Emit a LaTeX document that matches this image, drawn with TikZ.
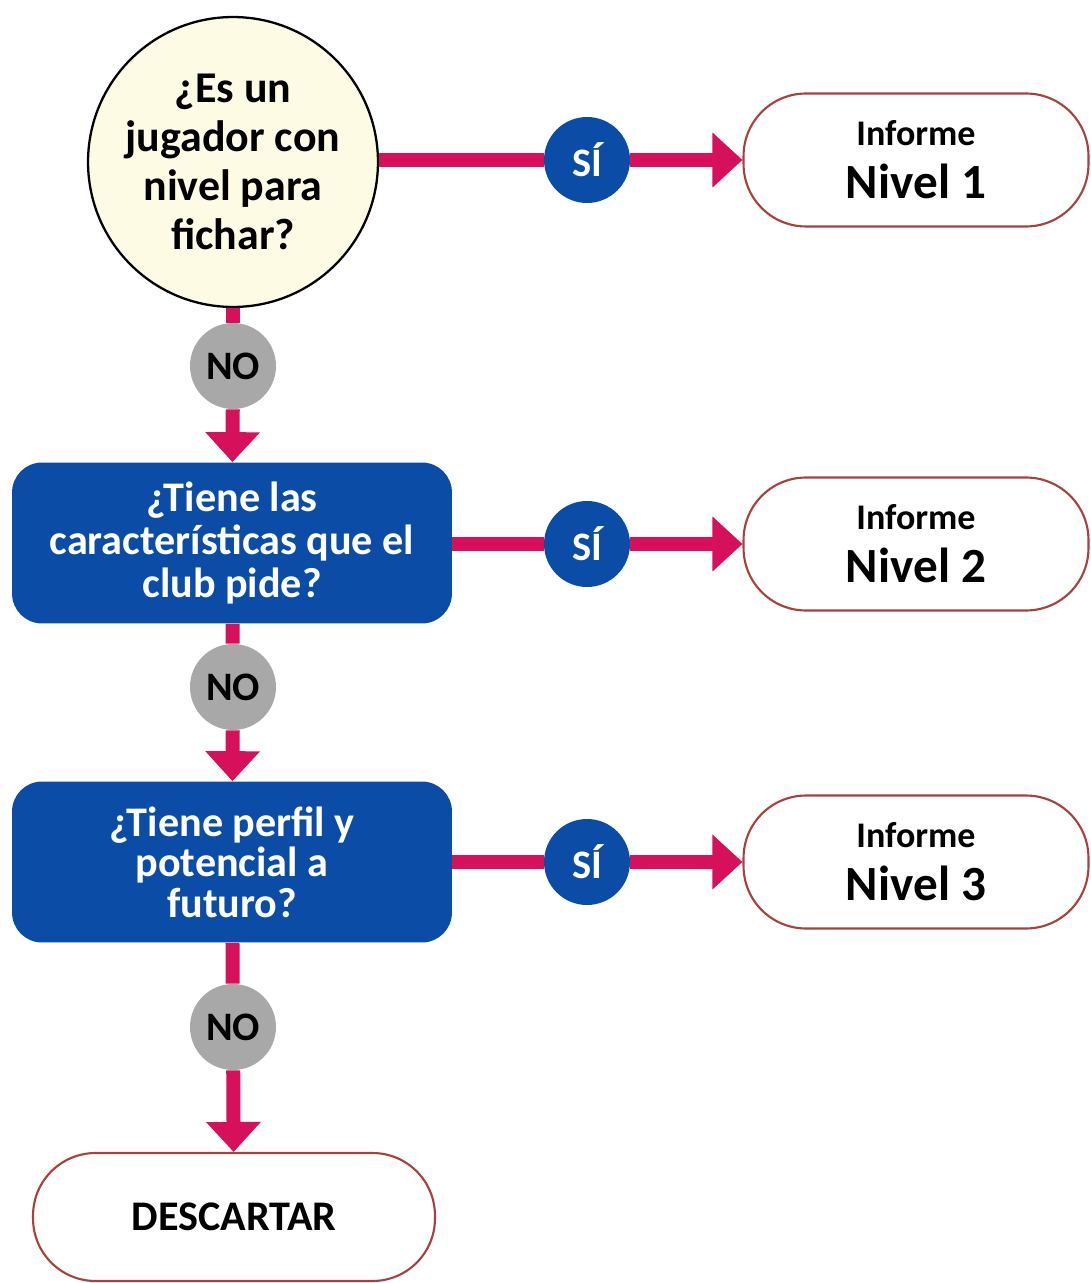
\documentclass[tikz,border=0pt]{standalone}
\usepackage{fontspec}
\setmainfont{Carlito}
\usetikzlibrary{arrows.meta,positioning,shapes.misc}
\definecolor{Crimson}{HTML}{D6105A}
\definecolor{Royal}{HTML}{0B4DA6}
\definecolor{Cream}{HTML}{FDFBE4}
\definecolor{Stone}{HTML}{A8A8A8}
\definecolor{Brick}{HTML}{A8403C}
\newcommand{\reporttext}[1]{Informe\\{\fontsize{28}{30}\selectfont #1}}
\tikzset{
  pinkline/.style={line width=0.28cm, draw=Crimson},
  pinkarrow/.style={-{Triangle[length=0.6cm,width=1.06cm]}, line width=0.28cm, draw=Crimson},
  askcircle/.style={circle, draw=black, fill=Cream, line width=1.3pt, minimum size=5.8cm, inner sep=0pt, align=center, font=\bfseries\fontsize{25}{28}\selectfont},
  askbox/.style={rounded corners=0.6cm, fill=Royal, text=white, minimum width=8.8cm, minimum height=3.22cm, inner sep=2pt, align=center, font=\bfseries\fontsize{24}{24.5}\selectfont},
  yesdot/.style={circle, fill=Royal, text=white, minimum size=1.72cm, inner sep=0pt, font=\bfseries\fontsize{23}{24}\selectfont},
  nodot/.style={circle, fill=Stone, text=black, minimum size=1.72cm, inner sep=0pt, font=\bfseries\fontsize{23}{24}\selectfont},
  reportnode/.style={rounded corners=1.25cm, draw=Brick, fill=white, line width=1.2pt, minimum width=6.9cm, minimum height=2.66cm, align=center, font=\bfseries\fontsize{20.5}{30}\selectfont},
}
\begin{document}
\begin{tikzpicture}[x=0.02cm,y=-0.02cm]
\path[use as bounding box] (0,0) rectangle (1090,1283);
\fill[white] (0,0) rectangle (1090,1283);

\node[askcircle] (q1) at (233,162) {¿Es un\\jugador con\\nivel para\\fichar?};
\node[askbox] (q2) at (232,543) {¿Tiene las\\características que el\\club pide?};
\node[askbox,font=\bfseries\fontsize{24}{23}\selectfont] (q3) at (232,862) {¿Tiene perfil y\\potencial a\\futuro?};
\node[reportnode,minimum width=8.04cm,minimum height=2.56cm,font=\bfseries\fontsize{24}{24}\selectfont] (drop) at (234,1217) {DESCARTAR};

\node[yesdot] (si1) at (587,160) {SÍ};
\node[yesdot] (si2) at (587,544) {SÍ};
\node[yesdot] (si3) at (587,862) {SÍ};
\node[nodot] (no1) at (233,366) {NO};
\node[nodot] (no2) at (233,687) {NO};
\node[nodot] (no3) at (233,1027) {NO};

\node[reportnode] (inf1) at (916,160) {\reporttext{Nivel 1}};
\node[reportnode] (inf2) at (916,544) {\reporttext{Nivel 2}};
\node[reportnode] (inf3) at (916,862) {\reporttext{Nivel 3}};

% yes branches
\draw[pinkline] (q1.east |- si1) -- (si1);
\draw[pinkarrow] (si1) -- (inf1);
\draw[pinkline] (q2.east |- si2) -- (si2);
\draw[pinkarrow] (si2) -- (inf2);
\draw[pinkline] (q3.east |- si3) -- (si3);
\draw[pinkarrow] (si3) -- (inf3);

% no branches
\draw[pinkline] (q1) -- (no1);
\draw[pinkarrow] (no1) -- (q2);
\draw[pinkline] (q2) -- (no2);
\draw[pinkarrow] (no2) -- (q3);
\draw[pinkline] (q3) -- (no3);
\draw[pinkarrow] (no3) -- (drop);
\end{tikzpicture}
\end{document}
